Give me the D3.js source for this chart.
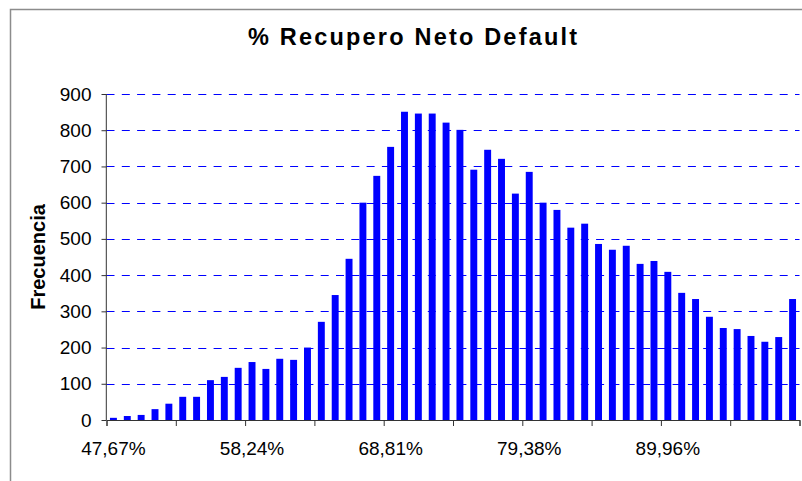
<!DOCTYPE html>
<html>
<head>
<meta charset="utf-8">
<script src="https://cdn.jsdelivr.net/npm/d3@7"></script>
<style>
    body { margin: 0; background: #fff; }
    svg { display: block; font-family: "Liberation Sans", Arial, sans-serif; }
    .tick-label { font-size: 19px; fill: #000; }
</style>
</head>
<body>
<div id="chart"></div>
<script>
// ========== DATA ==========
// Frequency per bin (50 bins)
const frequencies = [
    6, 11, 14, 30, 45, 64, 64, 110, 119, 144,
    160, 141, 169, 166, 200, 271, 345, 445, 600, 674,
    754, 851, 846, 846, 821, 801, 691, 746, 721, 625,
    685, 600, 580, 531, 542, 486, 470, 481, 431, 439,
    409, 351, 334, 285, 254, 251, 232, 216, 229, 334
];
// Labelled bins (bin index -> label)
const labelBins = [0, 10, 20, 30, 40];
const tickLabels = ["47,67%", "58,24%", "68,81%", "79,38%", "89,96%"];
const yTicks = [0, 100, 200, 300, 400, 500, 600, 700, 800, 900];

const width = 802, height = 481;
const margin = { top: 94, right: 2.5, bottom: 61, left: 106.5 };
const innerWidth = width - margin.left - margin.right;
const innerHeight = height - margin.top - margin.bottom;

const svg = d3.select("#chart")
    .append("svg")
    .attr("width", width)
    .attr("height", height);

// chart border (cropped at right/bottom in the original)
svg.append("rect")
    .attr("x", 10.5).attr("y", 9.5)
    .attr("width", 820).attr("height", 500)
    .attr("fill", "none")
    .attr("stroke", "#8c8c8c")
    .attr("stroke-width", 1.5);

const inner = svg.append("g")
    .attr("transform", `translate(${margin.left}, ${margin.top})`);

// ========== SCALES ==========
const bins = d3.range(frequencies.length);
const xScale = d3.scaleBand()
    .domain(bins)
    .range([0, innerWidth])
    .paddingInner(0.5)
    .paddingOuter(0.25);

// boundaries between bins, for the tick marks
const xEdges = d3.scaleLinear()
    .domain([0, frequencies.length])
    .range([0, innerWidth]);

const yScale = d3.scaleLinear()
    .domain([0, 900])
    .range([innerHeight, 0]);

// ========== GRIDLINES ==========
inner.append("g")
    .selectAll("line")
    .data(yTicks.filter(d => d > 0))
    .join("line")
    .attr("x1", 0)
    .attr("x2", innerWidth)
    .attr("y1", d => Math.round(yScale(d)) + 0.5)
    .attr("y2", d => Math.round(yScale(d)) + 0.5)
    .attr("stroke", "#0000ff")
    .attr("stroke-dasharray", "8,7.3");

// ========== BARS ==========
inner.selectAll("rect.bar")
    .data(frequencies)
    .join("rect")
    .attr("class", "bar")
    .attr("x", (d, i) => xScale(i))
    .attr("width", xScale.bandwidth())
    .attr("y", d => yScale(d))
    .attr("height", d => innerHeight - yScale(d))
    .attr("fill", "#0000ff");

// ========== Y AXIS ==========
const leftAxis = d3.axisLeft(yScale)
    .tickValues(yTicks)
    .tickSize(5)
    .tickPadding(10);
const yAxis = inner.append("g").call(leftAxis);
yAxis.select(".domain").attr("stroke", "#333").attr("d", `M-0.2,0V${innerHeight}`);
yAxis.selectAll(".tick line").attr("stroke", "#333");
yAxis.selectAll("text").attr("class", "tick-label");

// ========== X AXIS ==========
// tick marks every 5 bins
const edgeAxis = d3.axisBottom(xEdges)
    .tickValues(d3.range(0, frequencies.length + 1, 5))
    .tickSize(6)
    .tickFormat("");
const xAxis = inner.append("g")
    .attr("transform", `translate(0, ${innerHeight})`)
    .call(edgeAxis);
xAxis.select(".domain").attr("stroke", "#333");
xAxis.selectAll(".tick line").attr("stroke", "#333");
xAxis.selectAll(".tick text").remove();  // marks only, no labels here

// labels on every 10th bin
const labelAxis = d3.axisBottom(xScale)
    .tickValues(labelBins)
    .tickSize(0)
    .tickPadding(22)
    .tickFormat((d, i) => tickLabels[i]);
const xLabels = inner.append("g")
    .attr("transform", `translate(0, ${innerHeight})`)
    .call(labelAxis);
xLabels.select(".domain").remove();
xLabels.selectAll("text").attr("class", "tick-label");

// ========== TITLES ==========
svg.append("text")
    .text("% Recupero Neto Default")
    .attr("x", 412.5)
    .attr("y", 45)
    .attr("text-anchor", "middle")
    .attr("textLength", 329)
    .attr("lengthAdjust", "spacing")
    .style("font-size", "23.5px")
    .style("font-weight", "bold");

svg.append("text")
    .text("Frecuencia")
    .attr("transform", `translate(45, ${margin.top + innerHeight / 2}) rotate(-90)`)
    .attr("text-anchor", "middle")
    .style("font-size", "20px")
    .style("font-weight", "bold");
</script>
</body>
</html>
